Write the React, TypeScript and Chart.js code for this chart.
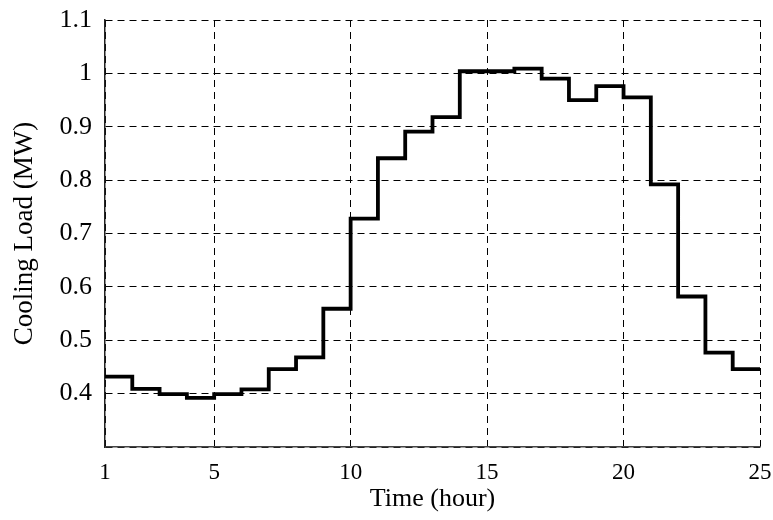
import React, { useEffect, useRef } from "react";
import { Chart, registerables } from "chart.js";

Chart.register(...registerables);

const hours = [1, 2, 3, 4, 5, 6, 7, 8, 9, 10, 11, 12, 13, 14, 15, 16, 17, 18, 19, 20, 21, 22, 23, 24, 25];
const coolingLoad = [
  0.432, 0.409, 0.399, 0.392, 0.399, 0.408, 0.446, 0.468, 0.559, 0.728, 0.841, 0.891,
  0.918, 1.004, 1.004, 1.009, 0.99, 0.95, 0.976, 0.955, 0.792, 0.582, 0.477, 0.446, 0.446,
];
const xTicks = [1, 5, 10, 15, 20, 25];
const yTicks = [0.3, 0.4, 0.5, 0.6, 0.7, 0.8, 0.9, 1.0, 1.1];
const xTitle = "Time (hour)";
const yTitle = "Cooling Load (MW)";

const zeroPad = (axis: any) => {
  axis.paddingTop = 0;
  axis.paddingBottom = 0;
  axis.paddingLeft = 0;
  axis.paddingRight = 0;
};

export default function App() {
  const ref = useRef<HTMLCanvasElement>(null);
  useEffect(() => {
    if (!ref.current) return;
    const family = "'Liberation Serif', 'Times New Roman', serif";
    const chart = new Chart(ref.current, {
      type: "line",
      data: {
        datasets: [
          {
            data: hours.map((h, i) => ({ x: h, y: coolingLoad[i] })),
            stepped: "before",
            borderColor: "#000",
            borderWidth: 3.8,
            borderJoinStyle: "miter",
            pointRadius: 0,
            fill: false,
          },
        ],
      },
      options: {
        animation: false,
        responsive: false,
        layout: { padding: { left: 0, top: 20, right: 13, bottom: 0 } },
        plugins: { legend: { display: false }, tooltip: { enabled: false } },
        scales: {
          x: {
            type: "linear",
            min: 1,
            max: 25,
            afterBuildTicks: (axis: any) => {
              axis.ticks = xTicks.map((v) => ({ value: v }));
            },
            afterFit: (axis: any) => {
              axis.height = 73;
              zeroPad(axis);
            },
            ticks: { color: "#000", font: { family, size: 23 }, padding: 12, maxRotation: 0, callback: (v: any) => String(v) },
            grid: { color: "#000", lineWidth: 1, drawTicks: false },
            border: { display: true, color: "#444", width: 1.5, dash: [7, 5] },
            title: { display: true, text: xTitle, color: "#000", font: { family, size: 26 }, padding: { top: 5, bottom: 5 } },
          },
          y: {
            type: "linear",
            min: 0.3,
            max: 1.1,
            afterBuildTicks: (axis: any) => {
              axis.ticks = yTicks.map((v) => ({ value: v }));
            },
            afterFit: (axis: any) => {
              axis.width = 105;
              zeroPad(axis);
            },
            ticks: {
              color: "#000",
              font: { family, size: 26 },
              padding: 13,
              callback: (v: any) => (Math.abs(v - 0.3) < 1e-6 ? "" : String(Math.round(v * 10) / 10)),
            },
            grid: { color: "#000", lineWidth: 1, drawTicks: false },
            border: { display: true, color: "#222", width: 1.5, dash: [7, 5] },
            title: { display: true, text: yTitle, color: "#000", font: { family, size: 27 }, padding: { top: 9, bottom: 0 } },
          },
        },
      },
    });
    return () => chart.destroy();
  }, []);
  return (
    <div style={{ position: "fixed", left: 0, top: 0, width: 773, height: 520, background: "#fff" }}>
      <canvas ref={ref} width={773} height={520} />
    </div>
  );
}
